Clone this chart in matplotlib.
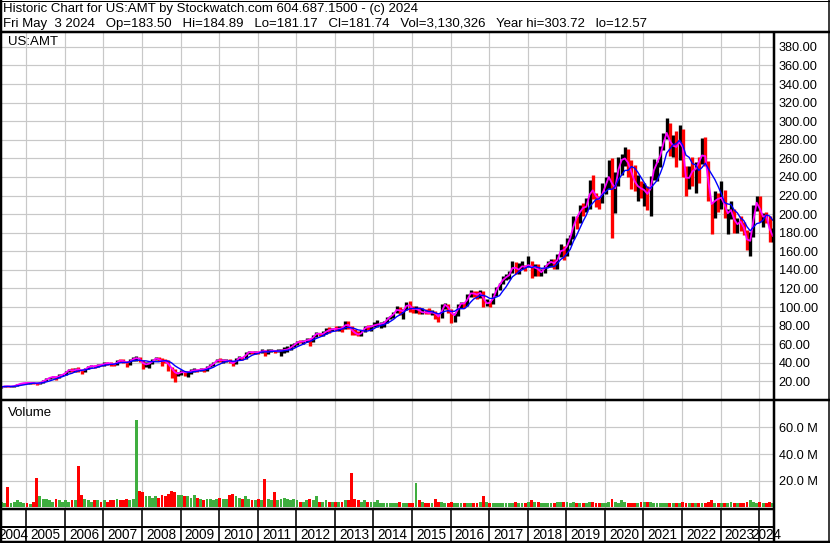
import numpy as np
import pandas as pd
import matplotlib
matplotlib.use("Agg")
import matplotlib.pyplot as plt
from matplotlib.ticker import FuncFormatter

plt.rcParams['font.family'] = ['Liberation Sans', 'DejaVu Sans']

# Monthly data, May 2004 .. May 2024
close = [
    14.0, 15.2, 14.5, 14.6, 15.4, 17.0, 17.9, 18.4,                          # 2004 May-Dec
    18.3, 18.5, 18.2, 17.2, 19.0, 21.0, 23.0, 24.5, 25.0, 24.0, 27.0, 27.1,  # 2005
    31.0, 33.0, 30.5, 34.0, 32.0, 31.5, 33.7, 36.5, 36.5, 36.0, 38.0, 37.3,  # 2006
    39.8, 39.7, 39.0, 37.5, 43.0, 42.0, 41.6, 39.0, 43.5, 44.2, 46.0, 42.6,  # 2007
    37.5, 39.0, 39.2, 43.4, 45.5, 42.3, 41.9, 41.5, 36.0, 32.3, 27.3, 29.3,  # 2008
    30.5, 29.3, 30.4, 31.6, 32.5, 31.5, 34.0, 32.0, 36.4, 36.8, 41.0, 43.2,  # 2009
    42.5, 42.5, 42.6, 40.8, 38.5, 44.5, 46.2, 44.4, 51.2, 51.6, 51.0, 51.6,  # 2010
    50.9, 53.7, 51.8, 52.3, 53.6, 52.3, 52.5, 53.7, 53.8, 55.1, 57.5, 60.0,  # 2011
    63.3, 62.5, 63.0, 65.5, 64.3, 69.9, 72.3, 70.5, 71.4, 75.4, 75.0, 77.3,  # 2012
    76.0, 77.5, 76.9, 83.9, 77.8, 73.2, 71.5, 69.3, 74.1, 79.4, 78.0, 79.8,  # 2013
    80.8, 81.7, 81.8, 83.4, 89.0, 90.0, 94.4, 99.4, 93.5, 97.5, 105.0, 98.9,  # 2014
    97.0, 99.0, 94.2, 94.5, 93.9, 93.3, 95.0, 91.5, 88.0, 102.2, 102.9, 97.0,  # 2015
    90.5, 92.0, 102.4, 105.0, 102.5, 113.6, 115.8, 113.4, 113.3, 117.2, 102.4, 105.7,  # 2016
    103.5, 114.5, 121.5, 126.2, 131.6, 132.3, 136.3, 147.7, 136.7, 143.7, 144.0, 142.7,  # 2017
    147.7, 139.5, 145.3, 136.4, 138.5, 144.2, 148.2, 149.1, 145.3, 155.8, 164.5, 158.2,  # 2018
    172.8, 176.2, 197.1, 195.0, 209.1, 204.4, 211.6, 230.2, 221.0, 218.1, 214.0, 229.8,  # 2019
    231.7, 248.3, 217.7, 238.0, 258.1, 258.5, 261.4, 249.1, 241.7, 229.6, 231.1, 224.5,  # 2020
    227.5, 216.0, 239.1, 254.8, 255.5, 270.1, 282.7, 292.2, 265.4, 282.0, 262.6, 292.5,  # 2021
    251.5, 226.8, 251.2, 241.0, 255.9, 255.6, 270.8, 254.0, 214.7, 207.2, 221.0, 211.9,  # 2022
    223.4, 197.5, 204.3, 204.4, 184.4, 193.9, 190.3, 181.2, 164.4, 178.2, 208.8, 215.9,  # 2023
    195.7, 198.8, 197.6, 171.5, 181.74,                                      # 2024 Jan-May
]
high = [
    14.8, 15.4, 15.5, 15.0, 15.6, 17.3, 18.2, 18.6,
    18.9, 19.0, 19.2, 18.5, 19.5, 21.4, 23.5, 25.2, 25.8, 25.5, 27.5, 28.5,
    31.5, 33.6, 34.0, 34.8, 35.6, 32.8, 34.0, 37.0, 38.0, 37.4, 38.8, 38.4,
    40.5, 41.2, 40.6, 40.0, 43.5, 44.6, 44.4, 42.0, 44.0, 46.8, 47.1, 46.5,
    42.7, 40.8, 40.5, 44.0, 46.0, 46.6, 45.6, 44.0, 43.0, 36.0, 33.0, 30.5,
    32.2, 31.5, 31.3, 33.7, 34.0, 33.6, 34.5, 34.9, 37.0, 38.7, 41.3, 43.8,
    44.7, 43.6, 44.4, 44.0, 42.0, 45.2, 47.3, 46.7, 51.3, 52.8, 52.5, 52.5,
    53.0, 54.7, 54.0, 54.5, 55.0, 54.0, 54.8, 54.6, 57.0, 58.5, 60.0, 61.0,
    63.8, 64.4, 64.5, 66.5, 66.5, 70.3, 73.0, 72.5, 74.0, 77.0, 78.5, 78.0,
    80.0, 79.5, 79.5, 84.6, 85.0, 79.2, 76.4, 74.3, 75.8, 80.0, 80.8, 80.3,
    83.5, 85.6, 83.5, 85.0, 89.7, 90.8, 95.0, 101.5, 100.3, 97.8, 105.5, 106.6,
    101.5, 101.5, 99.7, 98.5, 98.0, 98.8, 96.8, 96.0, 92.5, 103.0, 104.6, 103.3,
    97.5, 93.3, 103.4, 105.5, 105.5, 113.9, 118.9, 117.8, 117.3, 118.0, 117.0, 108.5,
    107.0, 114.8, 122.0, 126.4, 132.9, 136.0, 138.3, 149.2, 148.0, 147.0, 149.5, 145.0,
    155.2, 149.5, 146.0, 146.0, 140.5, 145.5, 150.0, 151.5, 151.2, 157.0, 168.0, 166.0,
    174.0, 178.0, 197.5, 197.8, 209.5, 212.0, 217.0, 237.0, 242.0, 223.0, 219.0, 233.0,
    240.0, 258.0, 260.0, 245.0, 261.0, 265.0, 272.0, 270.0, 258.0, 252.5, 242.0, 236.0,
    234.0, 230.0, 241.0, 259.0, 256.0, 273.0, 287.0, 303.7, 298.0, 285.0, 290.0, 296.0,
    292.0, 252.0, 252.0, 262.0, 256.5, 261.0, 282.0, 283.0, 257.0, 213.0, 225.0, 223.0,
    235.6, 226.0, 206.0, 214.0, 206.0, 196.0, 198.0, 192.0, 183.0, 181.0, 210.0, 219.1,
    220.0, 201.0, 202.0, 198.0, 184.89,
]
low = [
    12.6, 13.5, 13.6, 13.9, 14.2, 15.2, 16.9, 17.4,
    17.2, 17.6, 17.4, 16.2, 17.0, 18.8, 20.8, 22.7, 23.6, 22.0, 23.8, 26.0,
    26.8, 30.0, 29.6, 30.6, 29.6, 28.5, 29.6, 33.5, 35.0, 34.5, 35.2, 36.2,
    37.0, 37.2, 36.5, 36.7, 37.8, 40.6, 39.6, 35.5, 37.6, 42.3, 42.3, 40.5,
    33.0, 35.8, 34.5, 38.5, 42.8, 41.8, 36.9, 39.7, 31.0, 23.7, 19.4, 25.5,
    26.6, 25.5, 24.9, 27.9, 29.6, 30.1, 30.8, 30.6, 31.5, 35.2, 36.3, 40.5,
    40.7, 40.0, 40.8, 39.9, 36.9, 38.7, 42.8, 43.0, 44.0, 50.0, 49.0, 49.9,
    49.8, 50.7, 47.5, 49.8, 51.8, 50.3, 51.6, 47.0, 50.6, 51.8, 54.3, 56.9,
    59.5, 61.2, 60.6, 62.0, 58.4, 62.6, 67.5, 68.6, 69.0, 70.5, 72.3, 74.0,
    74.2, 74.2, 73.4, 76.3, 76.7, 69.8, 70.0, 68.5, 68.9, 72.8, 75.5, 74.5,
    78.2, 79.0, 77.5, 79.0, 82.5, 86.7, 88.5, 94.0, 91.0, 86.8, 97.0, 95.2,
    94.0, 94.0, 92.5, 92.5, 92.7, 92.5, 92.0, 87.5, 84.0, 88.0, 98.3, 94.0,
    83.0, 84.0, 90.0, 98.5, 99.0, 101.5, 110.8, 110.5, 109.0, 109.5, 99.6, 101.0,
    99.6, 102.8, 111.5, 118.5, 125.3, 128.9, 130.3, 136.6, 135.4, 136.0, 141.0, 139.0,
    142.6, 131.0, 133.7, 133.0, 133.0, 136.5, 143.0, 143.0, 141.4, 141.0, 154.0, 151.0,
    154.6, 167.0, 172.9, 183.6, 190.5, 197.5, 202.0, 206.0, 216.0, 208.0, 206.0, 212.0,
    222.0, 227.0, 174.4, 201.0, 230.0, 242.0, 252.0, 240.0, 227.0, 225.0, 214.0, 217.0,
    209.0, 204.0, 197.5, 237.0, 236.0, 251.0, 269.0, 281.0, 263.0, 262.0, 251.0, 258.0,
    240.0, 220.0, 227.0, 230.0, 223.0, 233.0, 254.0, 252.0, 214.0, 178.2, 196.0, 202.0,
    206.0, 196.0, 179.0, 195.0, 180.0, 180.0, 182.0, 178.0, 161.0, 154.6, 175.0, 203.0,
    192.0, 186.0, 190.0, 170.5, 170.0,
]
# weekly volume, millions of shares
volume = [
    4, 3, 15, 3, 4, 5, 4, 3,
    3, 2.5, 4, 22, 8, 6, 6, 5, 4, 6, 5, 4,
    5, 4, 5, 5, 31, 9, 6, 5, 4, 5, 5, 4,
    5, 4, 5, 5, 6, 5, 5, 6, 5, 6, 66, 12,
    11, 8, 8, 7, 8, 7, 9, 8, 10, 12, 11, 9,
    9, 8, 8, 7, 9, 7, 6, 5, 6, 6, 5, 6,
    7, 6, 6, 9, 10, 8, 7, 6, 8, 6, 5, 5,
    6, 5, 21, 6, 5, 11, 5, 6, 7, 6, 5, 6,
    5, 4, 4, 5, 6, 5, 8, 4, 4, 5, 4, 4,
    4, 4, 4, 5, 5, 26, 6, 5, 4, 5, 4, 4,
    4, 5, 3, 3, 3, 3, 3, 3, 4, 3, 3, 3,
    3, 18, 5, 4, 3, 3, 3, 6, 4, 4, 3, 3,
    4, 3, 3, 3, 3, 3, 3, 3, 3, 4, 8, 4,
    3, 3, 3, 3, 3, 3, 3, 3, 4, 3, 3, 3,
    4, 5, 4, 4, 3, 3, 3, 3, 3, 4, 4, 4,
    4, 3, 4, 3, 3, 3, 3, 4, 4, 3, 3, 3,
    3, 4, 6, 4, 3, 5, 4, 3, 3, 3, 3, 4,
    4, 4, 4, 3, 3, 3, 3, 3, 3, 3, 3, 3,
    4, 3, 3, 3, 3, 3, 3, 3, 4, 5, 3, 3,
    3, 3, 3, 4, 3, 3, 3, 3, 4, 5, 4, 3,
    4, 3, 3, 4, 3,
]
years = list(range(2004, 2025))
price_ticks = list(range(20, 381, 20))
vol_ticks = [20e6, 40e6, 60e6]

header1 = "Historic Chart for US:AMT by Stockwatch.com 604.687.1500 - (c) 2024"
header2 = ("Fri May  3 2024   Op=183.50   Hi=184.89   Lo=181.17   Cl=181.74   "
           "Vol=3,130,326   Year hi=303.72   lo=12.57")

close = np.array(close)
high = np.array(high)
low = np.array(low)
volume = np.array(volume) * 1e6
t = np.array([2004 + (4 + i) / 12 + 0.02 for i in range(len(close))])
prev = np.r_[close[0], close[:-1]]
up = close >= prev
ma_short = pd.Series(close).rolling(2, min_periods=1).mean()
ma_long = pd.Series(close).rolling(6, min_periods=1).mean()

X0, X1 = 2004.319, 2024.36
W, H = 830, 543
GRID = '#c8c8c8'
PX = 0.72  # one pixel in points
FS = 9.5

fig = plt.figure(figsize=(W / 100, H / 100), dpi=100)
fig.patch.set_facecolor('white')


def box(x0, y0, x1, y1):
    return [x0 / W, 1 - y1 / H, (x1 - x0) / W, (y1 - y0) / H]


# price panel
ax_p = fig.add_axes(box(0, 32, 773, 400))
ax_p.set_xlim(X0, X1)
ax_p.set_ylim(0, 396)
ax_p.vlines(t, low, high, colors=np.where(up, 'black', '#ff0000'), lw=2.4, zorder=3)
ax_p.plot(t, ma_short, color='#ff00ff', lw=1.3, zorder=4)
ax_p.plot(t, ma_long, color='#0000ff', lw=1.0, zorder=5)
ax_p.set_yticks(price_ticks)
ax_p.yaxis.tick_right()
ax_p.yaxis.set_major_formatter(FuncFormatter(lambda v, p: f"{v:.2f}"))

# volume panel
ax_v = fig.add_axes(box(0, 400, 773, 509))
ax_v.set_xlim(X0, X1)
ax_v.set_ylim(-1.5e6, 80.75e6)
ax_v.bar(t, volume, width=0.075, color=np.where(up, '#3fae3f', '#ff0000'), zorder=3)
ax_v.set_yticks(vol_ticks)
ax_v.yaxis.tick_right()
ax_v.yaxis.set_major_formatter(FuncFormatter(lambda v, p: f"{v / 1e6:.1f} M"))

for ax in (ax_p, ax_v):
    ax.set_xticks(years[1:])
    ax.grid(True, color=GRID, lw=1.2 * PX, zorder=0)
    ax.tick_params(axis='x', length=0, labelbottom=False)
    ax.tick_params(axis='y', length=0, pad=4, labelsize=9.2, labelcolor='black')
    for s in ax.spines.values():
        s.set_visible(False)

# date rows with year labels
ax_d = fig.add_axes(box(0, 509, 773, 543))
ax_d.set_xlim(X0, X1)
ax_d.set_ylim(0, 1)
ax_d.axis('off')
ax_d.vlines(years[1:], 0, 1, colors='black', lw=1.6 * PX)
ax_d.axhline((543 - 527) / 34, color='black', lw=2 * PX)
for y in years:
    a, b = max(y, X0), min(y + 1, X1)
    ax_d.text((a + b) / 2, 0.24, str(y), ha='center', va='center', fontsize=9.8)

# frame lines and header text in pixel coordinates
ov = fig.add_axes([0, 0, 1, 1], zorder=10)
ov.set_xlim(0, W)
ov.set_ylim(H, 0)
ov.axis('off')
ov.patch.set_alpha(0)
k = dict(color='black', solid_capstyle='butt')
ov.plot([0, W], [0.5, 0.5], lw=1 * PX, **k)
ov.plot([1, 1], [0, H], lw=2.5 * PX, **k)
ov.plot([828.5, 828.5], [0, H], lw=1.5 * PX, **k)
ov.plot([0, W], [31.5, 31.5], lw=2.5 * PX, **k)
ov.plot([0, W], [400, 400], lw=2.5 * PX, **k)
ov.plot([0, 774], [509, 509], lw=2.5 * PX, **k)
ov.plot([0, W], [541.5, 541.5], lw=2.5 * PX, **k)
ov.plot([774, 774], [31, H], lw=2.5 * PX, **k)
ov.text(3, 12, header1, fontsize=FS, va='baseline', ha='left')
ov.text(3, 26.5, header2, fontsize=FS, va='baseline', ha='left')
ov.text(8, 42, "US:AMT", fontsize=FS, va='center', ha='left')
ov.text(8, 413, "Volume", fontsize=FS, va='center', ha='left')

fig.savefig("out.png", dpi=100, facecolor='white')
